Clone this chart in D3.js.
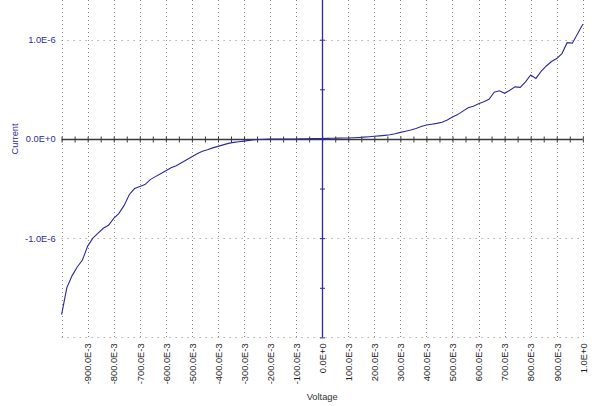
<!DOCTYPE html>
<html lang="en">
<head>
    <meta charset="UTF-8">
    <title>IV curve</title>
    <script src="https://d3js.org/d3.v7.min.js"></script>
    <style>
        body { margin: 0; background: #fff; }
        #canvas { display: block; }
        text { font-family: Arial, "Liberation Sans", sans-serif; font-size: 9.3px; }
    </style>
</head>
<body>
<svg id="canvas" width="600" height="406"></svg>
<script>
    // voltage (V) and measured current (A, in units of 1E-6)
    let voltage = [
        -1.00, -0.98, -0.96, -0.94, -0.92, -0.90, -0.88, -0.86, -0.84, -0.82,
        -0.80, -0.78, -0.76, -0.74, -0.72, -0.70, -0.68, -0.66, -0.64, -0.62,
        -0.60, -0.58, -0.56, -0.54, -0.52, -0.50, -0.48, -0.46, -0.44, -0.42,
        -0.40, -0.38, -0.36, -0.34, -0.32, -0.30, -0.28, -0.26, -0.24, -0.22,
        -0.20, -0.18, -0.16, -0.14, -0.12, -0.10, -0.08, -0.06, -0.04, -0.02,
        0.00, 0.02, 0.04, 0.06, 0.08, 0.10, 0.12, 0.14, 0.16, 0.18,
        0.20, 0.22, 0.24, 0.26, 0.28, 0.30, 0.32, 0.34, 0.36, 0.38,
        0.40, 0.42, 0.44, 0.46, 0.48, 0.50, 0.52, 0.54, 0.56, 0.58,
        0.60, 0.62, 0.64, 0.66, 0.68, 0.70, 0.72, 0.74, 0.76, 0.78,
        0.80, 0.82, 0.84, 0.86, 0.88, 0.90, 0.92, 0.94, 0.96, 0.98, 1.00
    ];
    let current = [
        -1.77, -1.50, -1.38, -1.29, -1.22, -1.08, -1.00, -0.95, -0.90, -0.87,
        -0.80, -0.75, -0.67, -0.56, -0.50, -0.48, -0.46, -0.41, -0.38, -0.35,
        -0.32, -0.29, -0.27, -0.24, -0.21, -0.18, -0.15, -0.125, -0.11, -0.09,
        -0.075, -0.06, -0.045, -0.035, -0.028, -0.022, -0.015, -0.009, -0.005, -0.003,
        -0.001, 0.0, 0.0, 0.0, 0.0, 0.0, 0.001, 0.002, 0.003, 0.004,
        0.005, 0.006, 0.007, 0.008, 0.009, 0.010, 0.012, 0.015, 0.018, 0.022,
        0.027, 0.031, 0.036, 0.042, 0.052, 0.066, 0.078, 0.090, 0.105, 0.125,
        0.140, 0.148, 0.157, 0.168, 0.190, 0.220, 0.245, 0.280, 0.315, 0.330,
        0.355, 0.375, 0.400, 0.470, 0.485, 0.460, 0.490, 0.525, 0.520, 0.575,
        0.645, 0.610, 0.680, 0.735, 0.780, 0.810, 0.860, 0.970, 0.965, 1.060, 1.156
    ];
    let xGridValues = [-1.0, -0.9, -0.8, -0.7, -0.6, -0.5, -0.4, -0.3, -0.2, -0.1,
        0.1, 0.2, 0.3, 0.4, 0.5, 0.6, 0.7, 0.8, 0.9, 1.0];
    let xLabelValues = [-0.9, -0.8, -0.7, -0.6, -0.5, -0.4, -0.3, -0.2, -0.1, 0.0,
        0.1, 0.2, 0.3, 0.4, 0.5, 0.6, 0.7, 0.8, 0.9, 1.0];
    let yGridValues = [1e-6, -1e-6, -2e-6];
    let yLabelValues = [1e-6, 0, -1e-6];
    let yTickValues = [1e-6, 0.5e-6, 0, -0.5e-6, -1e-6, -1.5e-6, -2e-6];

    let svg = d3.select('#canvas');

    let x = d3.scaleLinear().domain([-1, 1]).range([61.6, 582.8]);
    let y = d3.scaleLinear().domain([-2e-6, 1.4e-6]).range([337.4, 0]);

    let blue = "#2b2b9e";
    let grid = "#8a8a8a";

    // dotted grid
    svg.append('g').selectAll('line.vg')
        .data(xGridValues).enter().append('line')
        .attr('x1', d => Math.round(x(d)) + 0.5).attr('x2', d => Math.round(x(d)) + 0.5)
        .attr('y1', y(1.4e-6)).attr('y2', y(-2e-6))
        .style('stroke', grid).style('stroke-width', 1)
        .style('stroke-dasharray', '1,3');

    svg.append('g').selectAll('line.hg')
        .data(yGridValues).enter().append('line')
        .attr('x1', x(-1)).attr('x2', x(1))
        .attr('y1', d => Math.round(y(d)) + 0.5).attr('y2', d => Math.round(y(d)) + 0.5)
        .style('stroke', grid).style('stroke-width', 1)
        .style('stroke-dasharray', '1,5');

    // horizontal zero axis with minor ticks every 50 mV
    let x0 = Math.round(y(0)) + 0.5;
    svg.append('line')
        .attr('x1', x(-1)).attr('x2', x(1))
        .attr('y1', x0).attr('y2', x0)
        .style('stroke', '#3a3a3a').style('stroke-width', 1.5);
    let xTickAxis = d3.axisBottom(x)
        .tickValues(d3.range(-20, 21).map(i => i / 20))
        .tickSize(6).tickFormat('');
    svg.append('g')
        .attr('transform', `translate(0,${x0 - 3})`)
        .call(xTickAxis)
        .call(g => g.select('.domain').remove())
        .call(g => g.selectAll('line').style('stroke', '#3a3a3a'));

    // vertical zero axis (blue)
    let xz = Math.round(x(0)) + 0.5;
    svg.append('line')
        .attr('x1', xz).attr('x2', xz)
        .attr('y1', 0).attr('y2', y(-2e-6))
        .style('stroke', blue).style('stroke-width', 1.3);
    let yTickAxis = d3.axisLeft(y).tickValues(yTickValues).tickSize(5).tickFormat('');
    svg.append('g')
        .attr('transform', `translate(${xz + 2.5},0)`)
        .call(yTickAxis)
        .call(g => g.select('.domain').remove())
        .call(g => g.selectAll('line').style('stroke', blue));

    // curve
    let line = d3.line()
        .x((d, i) => x(voltage[i]))
        .y(d => y(d * 1e-6));
    svg.append('path')
        .datum(current)
        .attr('d', line)
        .attr('fill', 'none')
        .attr('stroke', blue)
        .attr('stroke-width', 1.1);

    // y labels
    let fmtY = d => d === 0 ? "0.0E+0" : (d / 1e-6).toFixed(1) + "E-6";
    svg.append('g')
        .attr('transform', `translate(${x(-1)},0)`)
        .call(d3.axisLeft(y).tickValues(yLabelValues).tickSize(0).tickPadding(6).tickFormat(fmtY))
        .call(g => g.select('.domain').remove())
        .call(g => g.selectAll('text')
            .style('font-family', 'Arial, "Liberation Sans", sans-serif')
            .style('font-size', '9.3px')
            .attr('fill', blue));

    // x labels (rotated)
    let fmtX = d => {
        if (Math.abs(d) < 1e-9) return "0.0E+0";
        if (Math.abs(Math.abs(d) - 1) < 1e-9) return (d < 0 ? "-" : "") + "1.0E+0";
        return (d * 1000).toFixed(1) + "E-3";
    };
    svg.append('g')
        .attr('transform', `translate(0,${y(-2e-6)})`)
        .call(d3.axisBottom(x).tickValues(xLabelValues).tickSize(0).tickFormat(fmtX))
        .call(g => g.select('.domain').remove())
        .call(g => g.selectAll('text')
            .attr('transform', 'rotate(-90)')
            .attr('x', -6).attr('y', 0).attr('dy', '0.35em')
            .style('text-anchor', 'end')
            .style('font-family', 'Arial, "Liberation Sans", sans-serif')
            .style('font-size', '9.3px')
            .attr('fill', '#222'));

    // axis titles
    svg.append('text')
        .attr('transform', `translate(15,${y(0)}) rotate(-90)`)
        .attr('dy', '0.35em')
        .style('text-anchor', 'middle')
        .attr('fill', blue)
        .text('Current');
    svg.append('text')
        .attr('x', x(0)).attr('y', 400)
        .style('text-anchor', 'middle')
        .attr('fill', '#333')
        .text('Voltage');
</script>
</body>
</html>
